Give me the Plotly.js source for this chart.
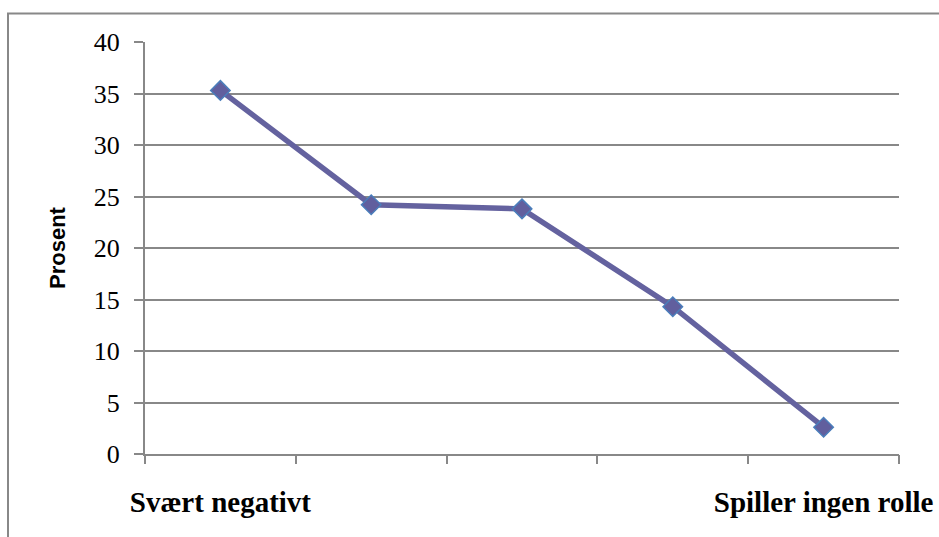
<!DOCTYPE html>
<html>
<head>
<meta charset="utf-8">
<script src="https://cdn.plot.ly/plotly-3.0.1.min.js"></script>
<style>
html,body{margin:0;padding:0;background:#fff;}
#chart{width:939px;height:537px;}
</style>
</head>
<body>
<div id="chart"></div>
<script>
// Data
const categories = ['Svært negativt', '', '', '', 'Spiller ingen rolle'];
const positions = [0, 1, 2, 3, 4];
const values = [35.3, 24.2, 23.8, 14.3, 2.6];
const boundaries = [-0.5, 0.5, 1.5, 2.5, 3.5, 4.5];
const yTicks = [0, 5, 10, 15, 20, 25, 30, 35, 40];

const gray = '#888888';

const trace = {
  x: positions,
  y: values,
  type: 'scatter',
  mode: 'lines+markers',
  line: {color: '#64629f', width: 5.5},
  marker: {symbol: 'diamond', size: 15, color: '#615f9e', line: {color: '#4a7ebb', width: 1.5}},
  hoverinfo: 'skip',
  showlegend: false
};

// invisible trace to activate the boundary tick axis
const tickTrace = {
  x: boundaries,
  y: boundaries.map(() => null),
  xaxis: 'x2',
  type: 'scatter',
  mode: 'markers',
  showlegend: false,
  hoverinfo: 'skip'
};

const L = 145, R = 899, T = 42, B = 454;
const W = R - L, H = B - T;
function px(x){ return (x - L) / W; }
function py(y){ return (B - y) / H; }

const layout = {
  width: 939,
  height: 537,
  margin: {l: L, r: 939 - R, t: T, b: 537 - B},
  paper_bgcolor: '#ffffff',
  plot_bgcolor: '#ffffff',
  xaxis: {
    range: [-0.5, 4.5],
    tickmode: 'array',
    tickvals: positions,
    ticktext: categories,
    ticks: '',
    showgrid: false,
    zeroline: false,
    showline: true,
    linecolor: gray,
    linewidth: 2,
    ticklabelstandoff: 21,
    tickfont: {family: 'Liberation Serif', size: 29, color: '#000', weight: 'bold'},
    fixedrange: true
  },
  xaxis2: {
    overlaying: 'x',
    anchor: 'y',
    side: 'bottom',
    range: [-0.5, 4.5],
    tickmode: 'array',
    tickvals: boundaries,
    ticktext: boundaries.map(() => ''),
    ticks: 'outside',
    ticklen: 9,
    tickwidth: 2,
    tickcolor: gray,
    showgrid: false,
    zeroline: false,
    showline: false,
    fixedrange: true
  },
  yaxis: {
    range: [0, 40],
    tickmode: 'array',
    tickvals: yTicks,
    ticks: 'outside',
    ticklen: 9,
    tickwidth: 2,
    tickcolor: gray,
    showgrid: true,
    gridcolor: gray,
    gridwidth: 2,
    zeroline: false,
    showline: true,
    linecolor: gray,
    linewidth: 2,
    ticklabelstandoff: 9,
    tickfont: {family: 'Liberation Serif', size: 26, color: '#000'},
    title: {text: 'Prosent', standoff: 22, font: {family: 'Liberation Sans', size: 22, color: '#000', weight: 'bold'}},
    fixedrange: true
  },
  shapes: [{
    type: 'rect', xref: 'paper', yref: 'paper',
    x0: px(8), x1: px(948), y0: py(548), y1: py(13.5),
    line: {color: gray, width: 2}, fillcolor: 'rgba(0,0,0,0)', layer: 'below'
  }]
};

Plotly.newPlot('chart', [trace, tickTrace], layout, {displayModeBar: false, staticPlot: true});
</script>
</body>
</html>
